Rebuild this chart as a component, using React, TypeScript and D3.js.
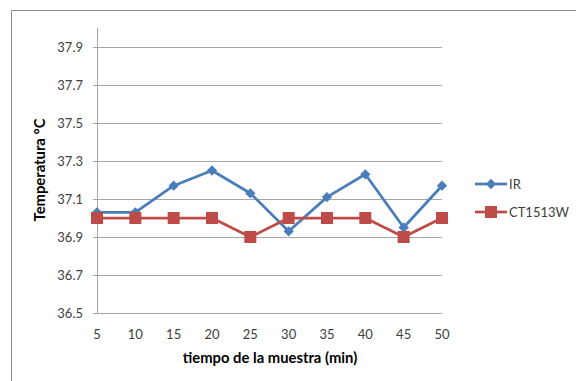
import React from "react";
import * as d3 from "d3";

const categories = [5, 10, 15, 20, 25, 30, 35, 40, 45, 50];
const irValues = [37.03, 37.03, 37.17, 37.25, 37.13, 36.93, 37.11, 37.23, 36.95, 37.17];
const ctValues = [37.0, 37.0, 37.0, 37.0, 36.9, 37.0, 37.0, 37.0, 36.9, 37.0];
const yTicks = [36.5, 36.7, 36.9, 37.1, 37.3, 37.5, 37.7, 37.9];
const seriesNames = ["IR", "CT1513W"];

const W = 576;
const H = 381;
const font = "Lato, 'Open Sans', sans-serif";

export default function App() {
  const x = d3.scalePoint<number>().domain(categories).range([97, 442]);
  const y = d3.scaleLinear().domain([36.5, 38.0]).range([313, 28]);
  const blue = "#4A7EBB";
  const red = "#BE4B48";
  const line = d3
    .line<number>()
    .x((_, i) => x(categories[i]) as number)
    .y((d) => y(d));
  const diamond = d3.symbol().type(d3.symbolDiamond2).size(68)() as string;

  return (
    <svg
      width={W}
      height={H}
      style={{ position: "absolute", left: 0, top: 0, background: "#fff" }}
      fontFamily={font}
    >
      {/* outer border */}
      <path d={`M11.5,${H} V10.5 H${W}`} fill="none" stroke="#8c8c8c" strokeWidth={1} />
      {/* gridlines */}
      {yTicks.map((t) => (
        <g key={t}>
          <line x1={93} x2={442} y1={Math.round(y(t)) + 0.5} y2={Math.round(y(t)) + 0.5} stroke="#a6a6a6" strokeWidth={1} />
          <text x={83} y={y(t) + 4.5} textAnchor="end" fontSize={13} fill="#404040">
            {t.toFixed(1)}
          </text>
        </g>
      ))}
      {/* y axis */}
      <line x1={97.5} x2={97.5} y1={28} y2={313} stroke="#a6a6a6" strokeWidth={1} />
      {/* x labels */}
      {categories.map((c) => (
        <text key={c} x={x(c)} y={339} textAnchor="middle" fontSize={13} fill="#404040">
          {c}
        </text>
      ))}
      {/* axis titles */}
      <text x={270} y={362.5} textAnchor="middle" fontSize={14.8} fontWeight="bold" fill="#000">
        tiempo de la muestra (min)
      </text>
      <text
        transform={`translate(45,170) rotate(-90)`}
        textAnchor="middle"
        fontSize={14.8}
        fontWeight="bold"
        fill="#000"
      >
        Temperatura °C
      </text>
      {/* series */}
      <path d={line(irValues) as string} fill="none" stroke={blue} strokeWidth={2.75} strokeLinejoin="round" />
      {irValues.map((v, i) => (
        <path key={"ir" + i} d={diamond} transform={`translate(${x(categories[i])},${y(v)})`} fill={blue} />
      ))}
      <path d={line(ctValues) as string} fill="none" stroke={red} strokeWidth={2.75} strokeLinejoin="round" />
      {ctValues.map((v, i) => (
        <rect key={"ct" + i} x={(x(categories[i]) as number) - 6} y={y(v) - 6} width={12} height={12} fill={red} />
      ))}
      {/* legend */}
      <g>
        <line x1={475} x2={507} y1={184} y2={184} stroke={blue} strokeWidth={2.75} />
        <path d={diamond} transform="translate(491,184)" fill={blue} />
        <text x={509} y={188.5} fontSize={13} fill="#404040">{seriesNames[0]}</text>
        <line x1={475} x2={507} y1={212} y2={212} stroke={red} strokeWidth={2.75} />
        <rect x={485} y={206} width={12} height={12} fill={red} />
        <text x={509} y={216.5} fontSize={13} fill="#404040">{seriesNames[1]}</text>
      </g>
    </svg>
  );
}
